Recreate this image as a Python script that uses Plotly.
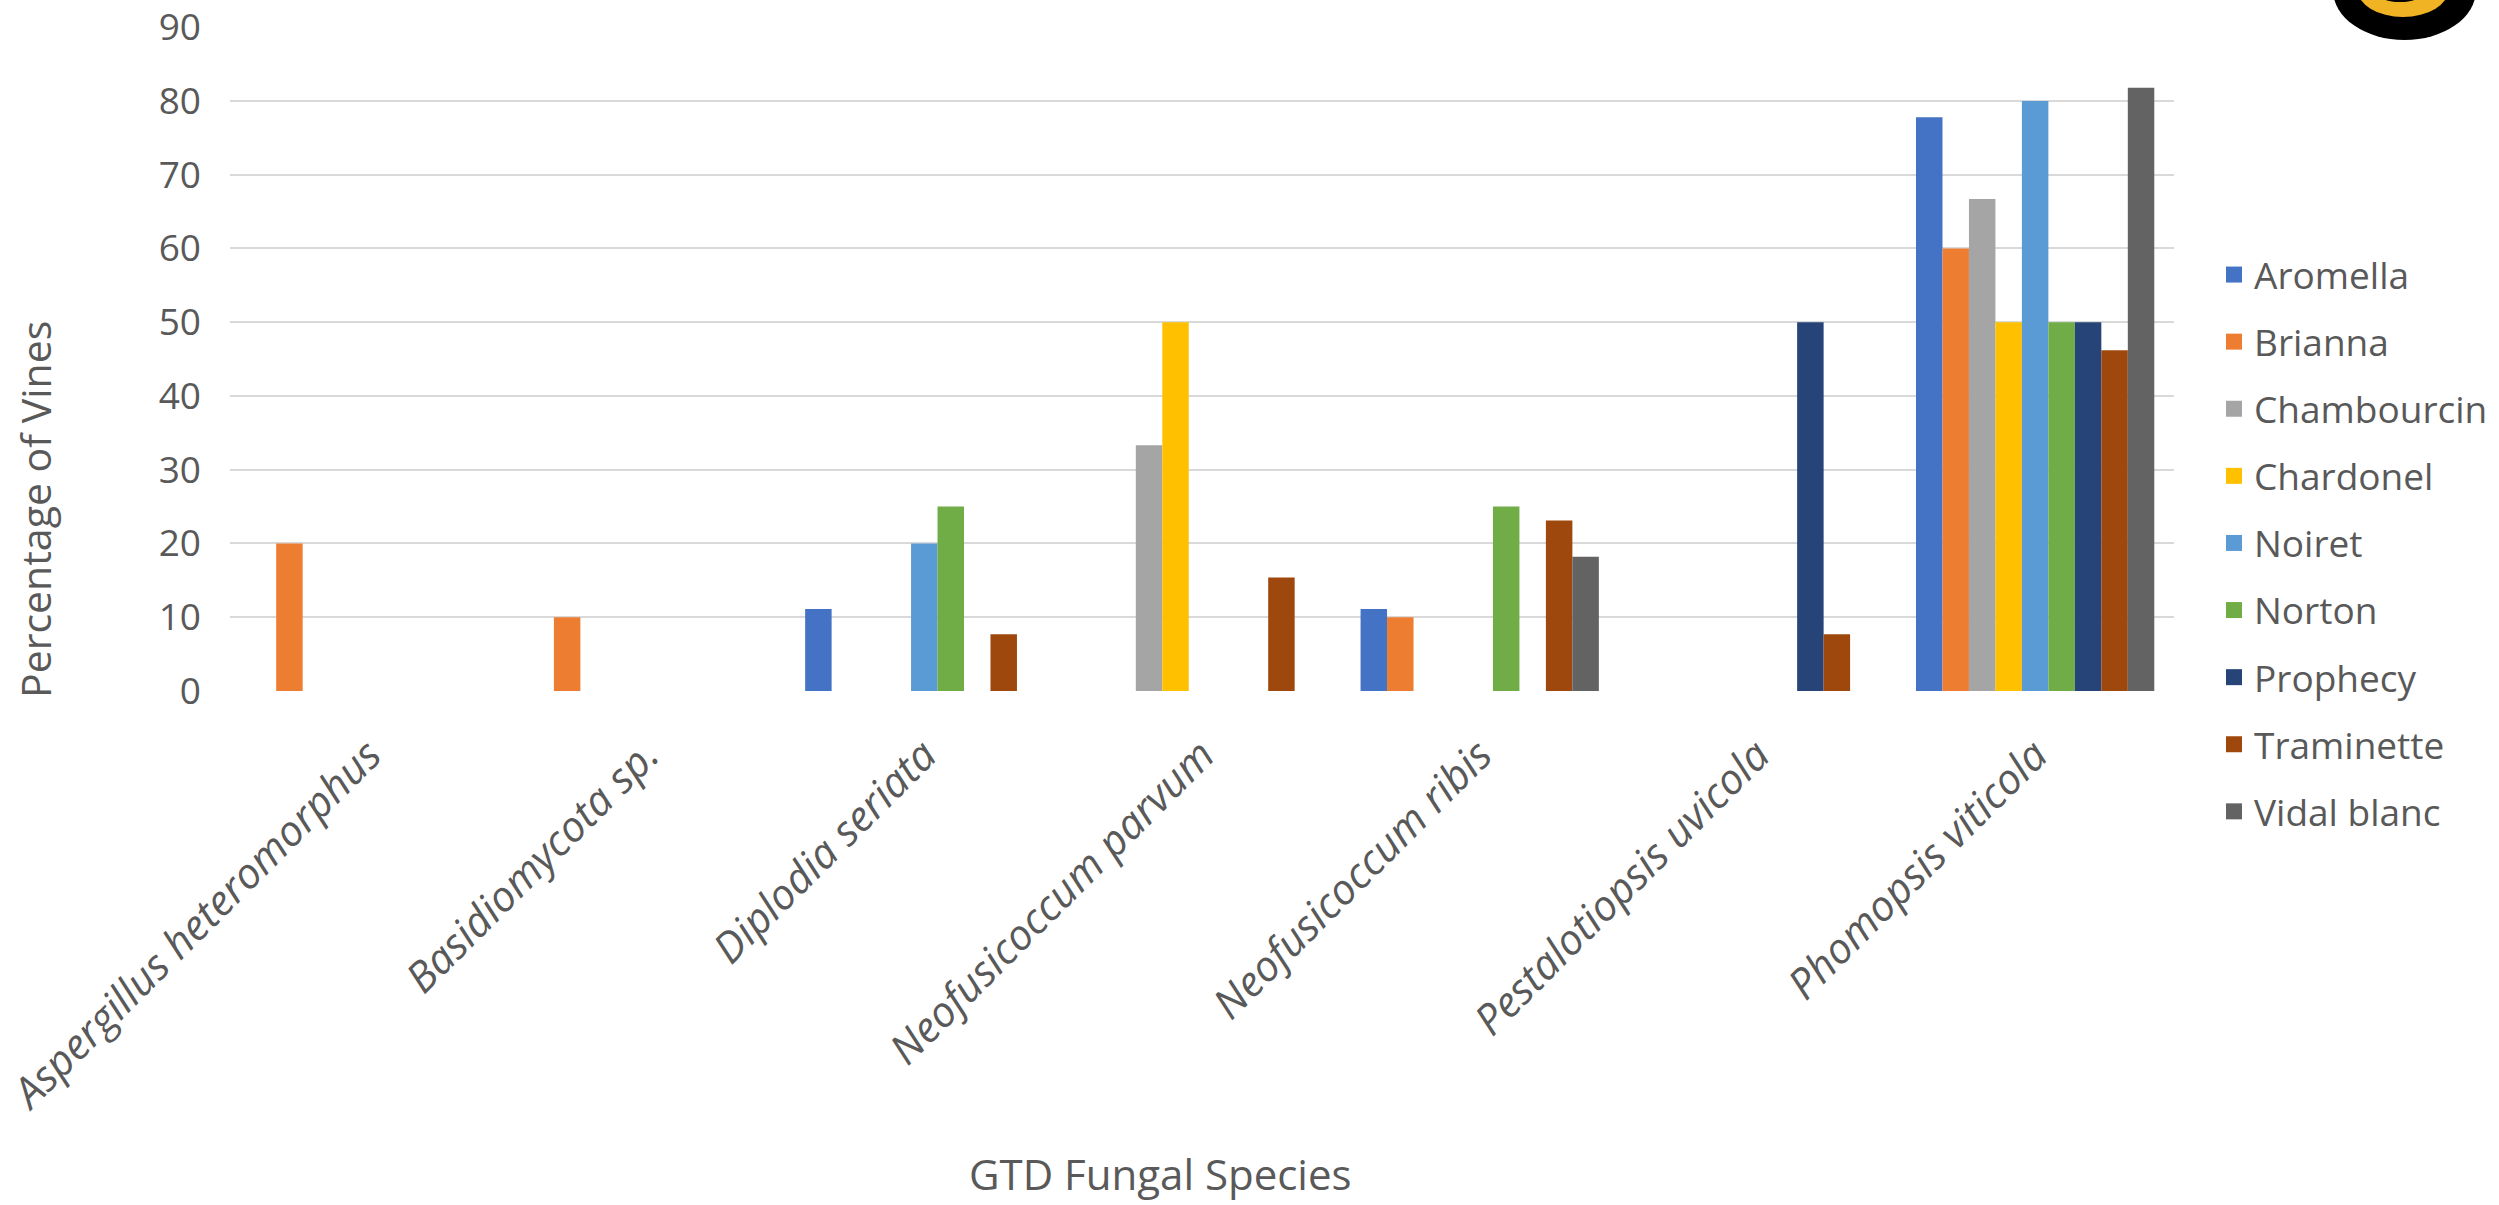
import plotly.graph_objects as go

species = ["Aspergillus heteromorphus", "Basidiomycota sp.", "Diplodia seriata",
           "Neofusicoccum parvum", "Neofusicoccum ribis", "Pestalotiopsis uvicola",
           "Phomopsis viticola"]

cultivars = ["Aromella", "Brianna", "Chambourcin", "Chardonel", "Noiret",
             "Norton", "Prophecy", "Traminette", "Vidal blanc"]

aromella    = [None, None, 11.1, None, 11.1, None, 77.8]
brianna     = [20, 10, None, None, 10, None, 60]
chambourcin = [None, None, None, 33.3, None, None, 66.7]
chardonel   = [None, None, None, 50, None, None, 50]
noiret      = [None, None, 20, None, None, None, 80]
norton      = [None, None, 25, None, 25, None, 50]
prophecy    = [None, None, None, None, None, 50, 50]
traminette  = [None, None, 7.7, 15.4, 23.1, 7.7, 46.2]
vidal_blanc = [None, None, None, None, 18.2, None, 81.8]

series = [aromella, brianna, chambourcin, chardonel, noiret, norton,
          prophecy, traminette, vidal_blanc]

colors = ["#4472C4", "#ED7D31", "#A5A5A5", "#FFC000", "#5B9BD5",
          "#70AD47", "#264478", "#9E480E", "#636363"]

y_ticks = [0, 10, 20, 30, 40, 50, 60, 70, 80, 90]

W, H = 2499, 1205
L, R, T, B = 230, 325, 27, 514
PW, PH = W - L - R, H - T - B

def px_x(p):
    return (p - L) / PW

def px_y(p):
    return (H - B - p) / PH

TXT = "#595959"
FONT = "Open Sans"

fig = go.Figure()
for name, vals, col in zip(cultivars, series, colors):
    fig.add_trace(go.Bar(x=species, y=vals, name=name, marker_color=col,
                         marker_line_width=0, showlegend=False))
    fig.add_trace(go.Scatter(x=[None], y=[None], mode="markers", name=name,
                             marker=dict(symbol="square", size=16, color=col),
                             legendgroup=name, showlegend=True))

fig.update_layout(
    width=W, height=H,
    margin=dict(l=L, r=R, t=T, b=B, autoexpand=False),
    paper_bgcolor="white", plot_bgcolor="white",
    barmode="group", bargap=0.142, bargroupgap=0,
    font=dict(family=FONT, color=TXT),
    legend=dict(x=px_x(2214), y=px_y(543), xanchor="left", yanchor="middle",
                font=dict(size=37, color=TXT, family=FONT),
                tracegroupgap=16, itemsizing="trace", bgcolor="rgba(0,0,0,0)"),
    xaxis=dict(type="category", categoryorder="array", categoryarray=species,
               tickangle=-45, tickfont=dict(size=42, color=TXT, family=FONT),
               showline=False, showgrid=False, ticks="", ticklabelstandoff=30,
               automargin=False),
    yaxis=dict(range=[0, 90.02], tickvals=y_ticks, ticktext=[str(v) for v in y_ticks],
               showgrid=True, gridcolor="#D9D9D9", gridwidth=2, zeroline=False,
               showline=False, ticks="", tickfont=dict(size=37, color=TXT, family=FONT),
               ticklabelstandoff=28, automargin=False),
)

# italic category labels
fig.update_xaxes(ticktext=["<i>%s</i>" % s for s in species], tickvals=species)

fig.add_annotation(text="Percentage of Vines", textangle=-90, showarrow=False,
                   xref="paper", yref="paper", x=px_x(35), y=px_y(510),
                   xanchor="center", yanchor="middle",
                   font=dict(size=41, color=TXT, family=FONT))
fig.add_annotation(text="GTD Fungal Species", showarrow=False,
                   xref="paper", yref="paper", x=px_x(1160), y=px_y(1204),
                   xanchor="center", yanchor="bottom",
                   font=dict(size=42, color=TXT, family=FONT))

# partial logo in the top-right corner
fig.add_shape(type="circle", xref="paper", yref="paper", layer="above",
              x0=px_x(2333), x1=px_x(2476), y0=px_y(40), y1=px_y(-60),
              fillcolor="black", line_width=0)
fig.add_shape(type="circle", xref="paper", yref="paper", layer="above",
              x0=px_x(2357), x1=px_x(2449), y0=px_y(17), y1=px_y(-40),
              fillcolor="#F0B323", line_width=0)
fig.add_shape(type="circle", xref="paper", yref="paper", layer="above",
              x0=px_x(2375), x1=px_x(2425), y0=px_y(2), y1=px_y(-20),
              fillcolor="black", line_width=0)

fig.write_html("out.html", config={"displayModeBar": False},
               post_script="document.body.style.margin='0';document.body.style.overflow='hidden';")
